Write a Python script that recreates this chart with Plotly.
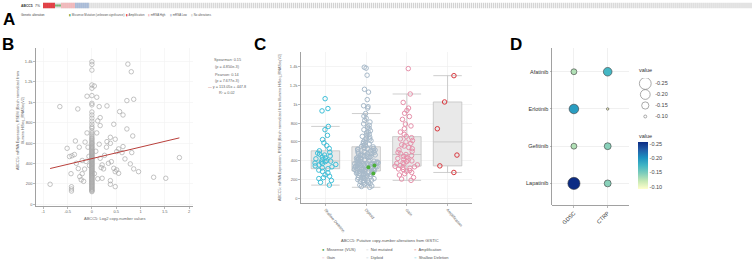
import plotly.graph_objects as go

W, H = 753, 263
FONT = "Liberation Sans, Arial, sans-serif"

def dx(a, b):
    return [a / W, b / W]

def dy(top, bottom):
    return [1 - bottom / H, 1 - top / H]

def px(x):
    return x / W

def py(y):
    return 1 - y / H

# ---------------- Panel A: oncoprint ----------------
onco_types = ["Amplification", "Missense", "mRNA High", "mRNA Low", "No alteration"]
onco_counts = [6, 3, 7, 7, 332]
onco_colors = ["#e0262b", "#3a9a3a", "#f2b3b6", "#a3b7d6", "#d2d2d2"]
onco_heights = [1.0, 0.34, 1.0, 1.0, 1.0]
onco_bases = [0.0, 0.33, 0.0, 0.0, 0.0]
alt_pct = "7%"
onco_legend = ["Missense Mutation (unknown significance)", "Amplification",
               "mRNA High", "mRNA Low", "No alterations"]
onco_legend_colors = ["#3a9a3a", "#e0262b", "#f2b3b6", "#a3b7d6", "#d2d2d2"]

# ---------------- Panel B: scatter ----------------
b_stripe_y = [1398, 1372, 1316, 1170, 1138, 1066, 990, 975, 905, 876, 845, 815, 786,
              760, 745, 718, 697, 680, 664, 648, 640, 628, 615, 603, 596, 588, 575,
              566, 558, 549, 540, 531, 522, 515, 508, 499, 492, 485, 476, 470, 462,
              455, 448, 441, 435, 428, 421, 414, 406, 399, 392, 386, 379, 371, 364,
              357, 350, 343, 336, 329, 322, 316, 309, 302, 296, 289, 281, 274, 266,
              259, 251, 244, 236, 229, 221, 214, 206, 199, 191, 184, 176, 169, 161,
              153, 146, 138, 131, 124]
b_other_x = [-0.86, -0.66, -0.51, -0.46, -0.41, -0.36, -0.43, -0.42, -0.42, -0.42,
             -0.34, -0.29, -0.32, -0.28, -0.25, -0.20, -0.22, -0.17, -0.15, -0.12,
             -0.10, -0.10, -0.08, -0.06, -0.05, -0.20, -0.26, -0.14,
             0.74, 0.81, 0.72, 0.86, 0.31, 0.15, 0.57, 0.64, 0.17, 0.12, 0.17, 0.45,
             0.72, 0.84, 0.64, 0.38, 0.48, 0.38, 0.31, 0.15, 0.51, 0.55, 0.68, 0.62,
             0.79, 0.86, 0.96, 0.82, 0.40, 0.34, 0.45, 0.51, 0.48, 0.55, 0.19, 0.24,
             0.17, 0.21, 0.38, 0.38, 0.21, 1.27, 1.52, 1.80, 0.48, 0.10, 0.08, 0.05,
             0.12, 0.26, 0.30, 0.10, 0.05]
b_other_y = [196, 958, 549, 468, 476, 488, 300, 172, 150, 130,
             621, 935, 402, 350, 271, 300, 240, 225, 345, 420,
             1060, 700, 560, 470, 380, 430, 560, 610,
             1375, 1300, 1017, 1030, 965, 958, 909, 876, 850, 818, 772, 785,
             739, 670, 566, 657, 638, 598, 615, 589, 517, 543, 445, 507,
             396, 347, 320, 507, 418, 402, 353, 337, 320, 304, 360, 347,
             451, 386, 232, 196, 255, 265, 255, 458, 173, 700, 520, 300,
             250, 480, 560, 1050, 1160]
fit_slope = 113.05
fit_intercept = 447.8
stats_lines = ["Spearman: 0.15", "(p = 4.850e-3)", "Pearson: 0.14", "(p = 7.677e-3)",
               "y = 113.05x + 447.8", "R² = 0.02"]

# ---------------- Panel C: box plots ----------------
c_categories = ["Shallow Deletion", "Diploid", "Gain", "Amplification"]
c_colors = ["#3ebfd8", "#a7b9c9", "#e690aa", "#d9383e"]
shallow_vals = [1060, 955, 930, 765, 730, 670, 625, 590, 560, 530, 505,
                490, 480, 470, 460, 450, 440, 430, 420, 410, 400,
                395, 390, 385, 375, 370, 360, 355, 345, 335, 325, 315,
                300, 285, 270, 250, 235, 220, 210, 190, 170, 140]
diploid_vals = [117, 126, 131, 141, 147, 156, 159, 167, 171, 179, 182, 190, 193, 200,
                203, 210, 212, 219, 221, 228, 230, 237, 239, 245, 247, 253, 255, 261,
                262, 268, 269, 275, 276, 281, 282, 287, 289,
                291, 293, 297, 298, 303, 304, 308, 309, 314, 315, 319, 320, 325, 326,
                331, 332, 336, 337, 341, 342, 347, 348, 352, 353, 357, 358, 362, 363,
                367, 368, 371, 372, 375, 376, 378, 379,
                382, 387, 389, 395, 397, 403, 405, 411, 413, 419, 421, 427, 429, 435,
                437, 443, 445, 451, 454, 460, 462, 468, 471, 477, 479, 486, 488, 495,
                497, 504, 506, 513, 515, 521, 523, 529, 531,
                538, 547, 552, 562, 568, 578, 584, 595, 602, 613, 620, 631, 639, 651,
                659, 672, 681, 695, 705, 719, 730, 746, 759, 777, 792, 812, 829, 852,
                874, 902,
                960, 975, 985, 1050, 1130, 1160, 1310, 1385, 1395]
missense_vals = [350, 330, 265]
gain_vals = [191, 205, 222, 248, 262, 275, 288, 296, 305, 312, 320, 328, 335, 341,
             348, 356, 365, 372, 380, 390, 398, 406, 415, 424, 433, 445, 455,
             466, 475, 488, 500, 515, 528, 540, 556, 570, 585, 600, 615, 632, 645,
             660, 680, 705, 740, 770, 790, 840, 870, 905, 935, 960, 1020, 1110, 1380]
amp_vals = [1305, 1025, 740, 460, 345, 275]
c_legend_row1 = [("●", "#3a9a3a", "Missense (VUS)"), ("○", "#bbbbbb", "Not mutated"),
                 ("○", "#d9383e", "Amplification")]
c_legend_row2 = [("○", "#e690aa", "Gain"), ("○", "#a7b9c9", "Diploid"),
                 ("○", "#3ebfd8", "Shallow Deletion")]

# ---------------- Panel D: bubble chart ----------------
drugs = ["Afatinib", "Erlotinib", "Gefitinib", "Lapatinib"]
sources = ["GDSC", "CTRP"]
gdsc_values = [-0.13, -0.195, -0.13, -0.259]
ctrp_values = [-0.175, -0.094, -0.145, -0.145]
size_legend_values = [-0.25, -0.20, -0.15, -0.10]
ylgnbu = [[0.0, "#ffffcc"], [0.1667, "#c7e9b4"], [0.3333, "#7fcdbb"], [0.5, "#41b6c4"],
          [0.6667, "#1d91c0"], [0.8333, "#225ea8"], [1.0, "#0c2c84"]]
SIZE_OFFSET = 0.09
SIZEREF = 0.0023

fig = go.Figure()

# ---- A ----
n_samples = sum(onco_counts)
sample_idx = list(range(n_samples))
fig.add_trace(go.Bar(x=sample_idx, y=[1] * n_samples, marker=dict(color="#d2d2d2", line=dict(width=0)),
                     width=0.62, xaxis="x", yaxis="y", hoverinfo="skip"))
start = 0
for t, c, col, h, b in zip(onco_types, onco_counts, onco_colors, onco_heights, onco_bases):
    if t == "No alteration":
        start += c
        continue
    xs = list(range(start, start + c))
    fig.add_trace(go.Bar(x=xs, y=[h] * c, base=[b] * c, marker=dict(color=col, line=dict(width=0)),
                         width=0.85 if t != "Missense" else 0.62, xaxis="x", yaxis="y", hoverinfo="skip"))
    start += c

# ---- B ----
fig.add_trace(go.Scatter(x=[0] * len(b_stripe_y) + b_other_x, y=b_stripe_y + b_other_y, mode="markers",
                         marker=dict(symbol="circle-open", size=4.5, color="#a9a9a9", line=dict(width=0.7)),
                         xaxis="x2", yaxis="y2", hoverinfo="skip"))
all_bx = [0] + b_other_x
fx = [min(all_bx), max(all_bx)]
fig.add_trace(go.Scatter(x=fx, y=[fit_slope * v + fit_intercept for v in fx], mode="lines",
                         line=dict(color="#b9403c", width=1), xaxis="x2", yaxis="y2", hoverinfo="skip"))

# ---- C ----
groups = [shallow_vals, diploid_vals, gain_vals, amp_vals]
for cat, vals, col in zip(c_categories, groups, c_colors):
    fig.add_trace(go.Box(x=[cat] * len(vals), y=vals, name=cat, boxpoints="all", jitter=0.85, pointpos=0,
                         width=0.7, whiskerwidth=1, fillcolor="#e9e9e9",
                         line=dict(color="#c2c2c2", width=0.8),
                         marker=dict(symbol="circle-open", size=4.5, color=col, line=dict(width=1, color=col)),
                         xaxis="x3", yaxis="y3", hoverinfo="skip"))
fig.add_trace(go.Box(x=["Diploid"] * len(missense_vals), y=missense_vals, boxpoints="all", jitter=0.3,
                     pointpos=0.35, width=0.7, fillcolor="rgba(0,0,0,0)",
                     line=dict(color="rgba(0,0,0,0)", width=0),
                     marker=dict(symbol="circle", size=4, color="#4caf3a"),
                     xaxis="x3", yaxis="y3", hoverinfo="skip"))

# ---- D ----
d_x, d_y, d_v = [], [], []
for src, vals in zip(sources, [gdsc_values, ctrp_values]):
    for drug, v in zip(drugs, vals):
        d_x.append(src)
        d_y.append(drug)
        d_v.append(v)
mag = [-v for v in d_v]
fig.add_trace(go.Scatter(
    x=d_x, y=d_y, mode="markers", xaxis="x4", yaxis="y4", hoverinfo="skip",
    marker=dict(size=[m - SIZE_OFFSET for m in mag], sizemode="area", sizeref=SIZEREF, sizemin=1.2,
                color=mag, colorscale=ylgnbu, cmin=min(mag), cmax=max(mag),
                line=dict(color="#3a3a3a", width=0.6), opacity=1,
                showscale=True,
                colorbar=dict(x=px(637.7), xanchor="left", y=py(165), yanchor="middle",
                              len=47 / H, lenmode="fraction", thickness=10, thicknessmode="pixels",
                              tickvals=[-v for v in size_legend_values],
                              ticktext=["%.2f" % v for v in size_legend_values],
                              tickfont=dict(size=5.5, color="#444", family=FONT),
                              ticks="", outlinewidth=0, xpad=0, ypad=0, ticklabelposition="outside"))))
# size legend
fig.add_trace(go.Scatter(
    x=[0.14] * 4, y=list(range(4)), mode="markers", xaxis="x5", yaxis="y5", hoverinfo="skip",
    marker=dict(size=[-v - SIZE_OFFSET for v in size_legend_values], sizemode="area", sizeref=SIZEREF,
                sizemin=1.2, color="white", line=dict(color="#555", width=0.7))))
fig.add_trace(go.Scatter(
    x=[0.33] * 4, y=list(range(4)), mode="text", text=["%.2f" % v for v in size_legend_values],
    textposition="middle right", textfont=dict(size=5.5, color="#444", family=FONT),
    xaxis="x5", yaxis="y5", hoverinfo="skip"))

# ---------------- layout ----------------
def axstyle(**kw):
    d = dict(showline=True, linecolor="#8a8a8a", linewidth=0.8, ticks="outside", ticklen=2,
             tickwidth=0.6, tickcolor="#8a8a8a", tickfont=dict(size=4, color="#666", family=FONT),
             zeroline=False, showgrid=True, gridcolor="#f1f1f1", gridwidth=0.6, fixedrange=True)
    d.update(kw)
    return d

hidden = dict(visible=False, fixedrange=True)
layout = dict(
    width=W, height=H, margin=dict(l=0, r=0, t=0, b=0), paper_bgcolor="white", plot_bgcolor="white",
    showlegend=False, barmode="overlay", boxmode="overlay",
    font=dict(family=FONT),
    xaxis=dict(domain=dx(43, 752), range=[-0.5, n_samples - 0.5], anchor="y", **hidden),
    yaxis=dict(domain=dy(2.5, 8.5), range=[0, 1], anchor="x", **hidden),
    xaxis2=axstyle(domain=dx(36, 193), range=[-1.15, 2.08], anchor="y2",
                   tickvals=[-1, -0.5, 0, 0.5, 1, 1.5, 2], ticktext=["-1", "-0.5", "0", "0.5", "1", "1.5", "2"]),
    yaxis2=axstyle(domain=dy(48.3, 205.7), range=[-14, 1530], anchor="x2",
                   tickvals=[0, 200, 400, 600, 800, 1000, 1200, 1400],
                   ticktext=["0", "200", "400", "600", "800", "1k", "1.2k", "1.4k"]),
    xaxis3=axstyle(domain=dx(301, 472), anchor="y3", type="category", categoryorder="array",
                   categoryarray=c_categories, range=[-0.6, 3.6], tickangle=50,
                   gridcolor="#ececec"),
    yaxis3=axstyle(domain=dy(51.7, 203), range=[-50, 1560], anchor="x3",
                   tickvals=[0, 200, 400, 600, 800, 1000, 1200, 1400],
                   ticktext=["0", "200", "400", "600", "800", "1k", "1.2k", "1.4k"],
                   gridcolor="#ececec"),
    xaxis4=axstyle(domain=dx(552.3, 629.3), anchor="y4", type="category", categoryorder="array",
                   categoryarray=sources, range=[-0.64, 1.64], tickangle=-45,
                   tickfont=dict(size=5.5, color="#333", family=FONT), gridcolor="#e6e6e6"),
    yaxis4=axstyle(domain=dy(48.3, 205), anchor="x4", type="category", categoryorder="array",
                   categoryarray=drugs[::-1], range=[-0.58, 3.63],
                   tickfont=dict(size=5.5, color="#333", family=FONT), gridcolor="#e6e6e6"),
    xaxis5=dict(domain=dx(638, 690), range=[0, 1], anchor="y5", **hidden),
    yaxis5=dict(domain=dy(78, 122), range=[3.5, -0.5], anchor="x5", **hidden),
)
fig.update_layout(**layout)

ann = []
def add_text(x, y, text, size=4, color="#555", xanchor="center", yanchor="middle", angle=0, bold=False):
    ann.append(dict(x=px(x), y=py(y), xref="paper", yref="paper", text=("<b>%s</b>" % text) if bold else text,
                    showarrow=False, xanchor=xanchor, yanchor=yanchor, textangle=angle,
                    font=dict(size=size, color=color, family=FONT)))

# panel letters
add_text(9, 19.5, "A", size=17, color="black", bold=True)
add_text(7.5, 44, "B", size=17, color="black", bold=True)
add_text(260, 44, "C", size=17, color="black", bold=True)
add_text(516, 44, "D", size=17, color="black", bold=True)

# panel A labels
add_text(19, 5.5, "ABCC5", size=3.4, color="#333", xanchor="left", bold=True)
add_text(41.5, 5.5, alt_pct, size=3.4, color="#333", xanchor="right")
add_text(19, 15, "Genetic alteration", size=3.0, color="#444", xanchor="left")
for xpos, lab, col in zip([67, 124, 146, 168, 189], onco_legend, onco_legend_colors):
    add_text(xpos, 15, "<span style='color:%s'>▮</span> %s" % (col, lab), size=2.8, color="#555",
             xanchor="left")

# panel B labels
add_text(20, 121, "ABCC5: mRNA Expression, RSEM (Batch normalized from<br>Illumina HiSeq_RNASeqV2)",
         size=3.8, color="#666", angle=-90)
add_text(114.5, 218, "ABCC5: Log2 copy-number values", size=4, color="#666")
for yy, t in zip([60, 66.5, 74.5, 80.5, 87, 93], stats_lines):
    if t.startswith("y ="):
        t = "<span style='color:#b9403c'>—</span> " + t
    add_text(227, yy, t, size=3.8, color="#666")

# panel C labels
add_text(280, 127, "ABCC5: mRNA Expression, RSEM (Batch normalized from Illumina HiSeq_RNASeqV2)",
         size=3.8, color="#666", angle=-90)
add_text(390, 240, "ABCC5: Putative copy-number alterations from GISTIC", size=4, color="#555")
for row, yy in [(c_legend_row1, 249), (c_legend_row2, 257)]:
    for (sym, col, lab), xx in zip(row, [320, 364, 412]):
        add_text(xx, yy, "<span style='color:%s'>%s</span>  %s" % (col, sym, lab), size=4, color="#555",
                 xanchor="left")

# panel D legend titles
add_text(637, 70, "value", size=5.5, color="#333", xanchor="left")
add_text(637, 136, "value", size=5.5, color="#333", xanchor="left")

fig.update_layout(annotations=ann)
fig.write_html("out.html", config={"displayModeBar": False, "staticPlot": True},
               post_script="document.body.style.margin='0';document.body.style.padding='0';")
